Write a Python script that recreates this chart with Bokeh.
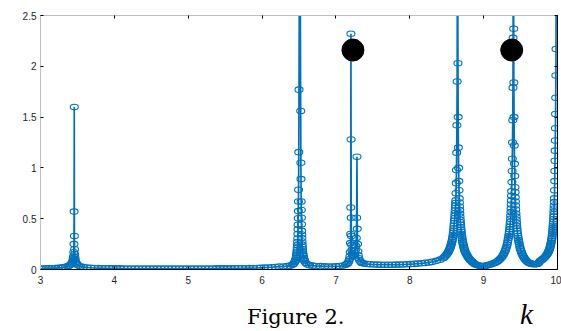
from bokeh.plotting import figure
from bokeh.models import LinearAxis, FixedTicker, Range1d, Div
from bokeh.layouts import column
from bokeh.embed import file_html
from bokeh.resources import INLINE

# ---------------- data: (k, value) pairs ----------------
seg_a = [(3.00, 0.010), (3.04, 0.010), (3.08, 0.011), (3.12, 0.012), (3.16, 0.013),
         (3.20, 0.014), (3.24, 0.016), (3.28, 0.019), (3.31, 0.022), (3.34, 0.026),
         (3.37, 0.032)]

peak1 = [(3.39, 0.040), (3.41, 0.050), (3.425, 0.060), (3.435, 0.075), (3.44, 0.090),
         (3.445, 0.110), (3.448, 0.130), (3.451, 0.170), (3.453, 0.250), (3.455, 0.570),
         (3.457, 1.600), (3.459, 0.330), (3.461, 0.200), (3.463, 0.150), (3.466, 0.120),
         (3.47, 0.095), (3.475, 0.075), (3.485, 0.060), (3.495, 0.050), (3.515, 0.040),
         (3.545, 0.030)]

seg_b = [(3.58, 0.024), (3.63, 0.020), (3.68, 0.017), (3.73, 0.015), (3.78, 0.014),
         (3.83, 0.013), (3.88, 0.012), (3.93, 0.012), (3.98, 0.011), (4.03, 0.011),
         (4.08, 0.011), (4.13, 0.010), (4.18, 0.010), (4.23, 0.010), (4.28, 0.010),
         (4.33, 0.010), (4.38, 0.010), (4.43, 0.010), (4.48, 0.010), (4.53, 0.010),
         (4.58, 0.010), (4.63, 0.010), (4.68, 0.010), (4.73, 0.010), (4.78, 0.010),
         (4.83, 0.010), (4.88, 0.010), (4.93, 0.010), (4.98, 0.010), (5.03, 0.010),
         (5.08, 0.010), (5.13, 0.010), (5.18, 0.010), (5.23, 0.010), (5.28, 0.010),
         (5.33, 0.010), (5.38, 0.011), (5.43, 0.011), (5.48, 0.011), (5.53, 0.011),
         (5.58, 0.011), (5.63, 0.012), (5.68, 0.012), (5.73, 0.012), (5.78, 0.013),
         (5.83, 0.014), (5.88, 0.014), (5.93, 0.015), (5.98, 0.016), (6.03, 0.018),
         (6.08, 0.020), (6.13, 0.022), (6.18, 0.025)]

peak2 = [(6.231, 0.028), (6.291, 0.030), (6.341, 0.033), (6.381, 0.038), (6.411, 0.047),
         (6.426, 0.055), (6.441, 0.070), (6.446, 0.078), (6.451, 0.086), (6.456, 0.099),
         (6.461, 0.113), (6.465, 0.128), (6.468, 0.144), (6.471, 0.160), (6.473, 0.177),
         (6.475, 0.195), (6.477, 0.215), (6.479, 0.240), (6.481, 0.270), (6.483, 0.305),
         (6.485, 0.350), (6.4865, 0.395), (6.488, 0.440), (6.4895, 0.505), (6.491, 0.575),
         (6.4925, 0.670), (6.494, 0.785), (6.497, 1.155), (6.500, 1.770), (6.511, 4.000),
         (6.523, 1.560), (6.5255, 1.050), (6.527, 0.890), (6.5295, 0.670), (6.531, 0.585),
         (6.5325, 0.510), (6.534, 0.445), (6.536, 0.380), (6.5375, 0.345), (6.539, 0.310),
         (6.541, 0.275), (6.543, 0.245), (6.545, 0.222), (6.547, 0.200), (6.5495, 0.180),
         (6.552, 0.160), (6.555, 0.145), (6.558, 0.130), (6.562, 0.116), (6.566, 0.103),
         (6.571, 0.092), (6.576, 0.082), (6.591, 0.064), (6.611, 0.052), (6.641, 0.043),
         (6.681, 0.038), (6.731, 0.035), (6.791, 0.033)]

seg_c = [(6.85, 0.031), (6.90, 0.030), (6.95, 0.030), (7.00, 0.031), (7.05, 0.034),
         (7.10, 0.040), (7.13, 0.047), (7.15, 0.055), (7.165, 0.065), (7.175, 0.080),
         (7.183, 0.100)]

peak34 = [(7.19, 0.13), (7.194, 0.17), (7.197, 0.26), (7.199, 0.35), (7.201, 0.61),
          (7.203, 2.32), (7.205, 1.28), (7.207, 0.51), (7.209, 0.33), (7.212, 0.24),
          (7.216, 0.19), (7.22, 0.16), (7.226, 0.14), (7.233, 0.13), (7.24, 0.13),
          (7.248, 0.14), (7.256, 0.16), (7.263, 0.19), (7.27, 0.23), (7.276, 0.31),
          (7.281, 0.51), (7.285, 1.11), (7.289, 0.40), (7.293, 0.25), (7.297, 0.18),
          (7.302, 0.14), (7.31, 0.11), (7.32, 0.09), (7.335, 0.075), (7.35, 0.065),
          (7.38, 0.058), (7.42, 0.054)]

seg_d = [(7.46, 0.051), (7.51, 0.049), (7.56, 0.048), (7.61, 0.047), (7.66, 0.047),
         (7.71, 0.047), (7.76, 0.047), (7.81, 0.048), (7.86, 0.048), (7.91, 0.049),
         (7.96, 0.051), (8.01, 0.053), (8.06, 0.055), (8.11, 0.058), (8.16, 0.061),
         (8.21, 0.065), (8.26, 0.069)]

peak5 = [(8.30, 0.075), (8.36, 0.085), (8.41, 0.097), (8.45, 0.11), (8.465, 0.12),
         (8.48, 0.13), (8.49, 0.14), (8.50, 0.15), (8.51, 0.16), (8.52, 0.17),
         (8.528, 0.182), (8.535, 0.195), (8.543, 0.207), (8.55, 0.22), (8.555, 0.232),
         (8.56, 0.245), (8.565, 0.257), (8.57, 0.27), (8.574, 0.285), (8.578, 0.30),
         (8.582, 0.32), (8.586, 0.34), (8.59, 0.36), (8.593, 0.38), (8.596, 0.405),
         (8.599, 0.43), (8.602, 0.455), (8.605, 0.48), (8.608, 0.505), (8.61, 0.53),
         (8.613, 0.555), (8.615, 0.58), (8.617, 0.605), (8.619, 0.63), (8.621, 0.655),
         (8.623, 0.68), (8.626, 0.75), (8.629, 0.85), (8.632, 0.98), (8.635, 1.15),
         (8.638, 1.42), (8.641, 1.85), (8.647, 4.0), (8.652, 2.03), (8.655, 1.50),
         (8.658, 1.20), (8.661, 1.00), (8.664, 0.87), (8.667, 0.78), (8.67, 0.70),
         (8.672, 0.66), (8.674, 0.62), (8.676, 0.585), (8.678, 0.55), (8.68, 0.52),
         (8.683, 0.49), (8.685, 0.465), (8.688, 0.44), (8.691, 0.415), (8.694, 0.39),
         (8.697, 0.37), (8.70, 0.35), (8.704, 0.33), (8.708, 0.31), (8.712, 0.29),
         (8.716, 0.27), (8.72, 0.255), (8.725, 0.24), (8.73, 0.225), (8.735, 0.21),
         (8.74, 0.197), (8.745, 0.185), (8.752, 0.172), (8.76, 0.16), (8.767, 0.15),
         (8.775, 0.14), (8.782, 0.13), (8.79, 0.12), (8.80, 0.11), (8.81, 0.10),
         (8.82, 0.092), (8.83, 0.085), (8.845, 0.075), (8.86, 0.065), (8.875, 0.057),
         (8.89, 0.05), (8.91, 0.045), (8.93, 0.04), (8.95, 0.037), (8.97, 0.035)]

peak6 = [(9.00, 0.035), (9.03, 0.038), (9.05, 0.042), (9.075, 0.047), (9.10, 0.052),
         (9.125, 0.058), (9.15, 0.065), (9.17, 0.072), (9.19, 0.08), (9.205, 0.09),
         (9.22, 0.10), (9.235, 0.112), (9.25, 0.125), (9.26, 0.137), (9.27, 0.15),
         (9.28, 0.165), (9.29, 0.18), (9.298, 0.195), (9.305, 0.21), (9.312, 0.227),
         (9.318, 0.245), (9.324, 0.267), (9.33, 0.29), (9.335, 0.31), (9.34, 0.33),
         (9.344, 0.35), (9.348, 0.37), (9.352, 0.395), (9.355, 0.42), (9.358, 0.445),
         (9.361, 0.47), (9.364, 0.50), (9.366, 0.53), (9.369, 0.565), (9.371, 0.60),
         (9.373, 0.64), (9.375, 0.68), (9.377, 0.725), (9.379, 0.77), (9.382, 0.86),
         (9.385, 0.97), (9.388, 1.09), (9.391, 1.25), (9.394, 1.47), (9.397, 1.79),
         (9.399, 2.28), (9.403, 4.0), (9.407, 2.37), (9.409, 1.84), (9.412, 1.50),
         (9.415, 1.22), (9.418, 1.04), (9.421, 0.92), (9.424, 0.81), (9.426, 0.76),
         (9.428, 0.71), (9.43, 0.67), (9.432, 0.63), (9.434, 0.59), (9.437, 0.55),
         (9.44, 0.52), (9.442, 0.49), (9.445, 0.46), (9.448, 0.43), (9.451, 0.405),
         (9.455, 0.38), (9.459, 0.355), (9.463, 0.33), (9.467, 0.31), (9.472, 0.29),
         (9.477, 0.27), (9.482, 0.25), (9.488, 0.23), (9.494, 0.21), (9.501, 0.195),
         (9.508, 0.18), (9.515, 0.165), (9.522, 0.15), (9.531, 0.137), (9.54, 0.125),
         (9.55, 0.112), (9.56, 0.10), (9.572, 0.09), (9.585, 0.08), (9.60, 0.072),
         (9.615, 0.065), (9.632, 0.06), (9.65, 0.055), (9.67, 0.053), (9.69, 0.052),
         (9.71, 0.053), (9.73, 0.055)]

peak7 = [(9.745, 0.065), (9.76, 0.08), (9.775, 0.088), (9.79, 0.095), (9.80, 0.102),
         (9.815, 0.11), (9.828, 0.12), (9.84, 0.13), (9.85, 0.14), (9.86, 0.15),
         (9.868, 0.16), (9.875, 0.17), (9.882, 0.182), (9.888, 0.195), (9.894, 0.207),
         (9.90, 0.22), (9.905, 0.235), (9.91, 0.25), (9.914, 0.265), (9.918, 0.28),
         (9.922, 0.295), (9.925, 0.31), (9.928, 0.33), (9.931, 0.35), (9.934, 0.37),
         (9.936, 0.39), (9.939, 0.41), (9.941, 0.43), (9.943, 0.45), (9.945, 0.47),
         (9.947, 0.495), (9.949, 0.52), (9.951, 0.545), (9.952, 0.57), (9.954, 0.60),
         (9.955, 0.63), (9.957, 0.665), (9.958, 0.70), (9.96, 0.78), (9.962, 0.87),
         (9.964, 0.97), (9.966, 1.07), (9.968, 1.17), (9.97, 1.27), (9.972, 1.39),
         (9.974, 1.53), (9.976, 1.69), (9.978, 1.91), (9.98, 2.17), (9.985, 4.0)]

dots_k = [7.23, 9.38]
dots_y = [2.16, 2.16]

x_ticks = [3, 4, 5, 6, 7, 8, 9, 10]
x_labels = ["3", "4", "5", "6", "7", "8", "9", "10"]
y_ticks = [0, 0.5, 1, 1.5, 2, 2.5]
y_labels = ["0", "0.5", "1", "1.5", "2", "2.5"]

caption = "Figure 2."
var_name = "k"

curve = seg_a + peak1 + seg_b + peak2 + seg_c + peak34 + seg_d + peak5 + peak6 + peak7
k_all = [c[0] for c in curve]
y_all = [c[1] for c in curve]

# ---------------- figure ----------------
BLUE = "#0072BD"
W, H = 561, 295
p = figure(width=W, height=H, x_range=Range1d(3, 10), y_range=Range1d(0, 2.5),
           output_backend="svg", toolbar_location=None,
           x_axis_location=None, y_axis_location=None,
           min_border_left=40, min_border_right=4, min_border_top=15,
           min_border_bottom=H - 269)
p.outline_line_color = None
p.grid.visible = False
p.background_fill_color = "white"
p.border_fill_color = "white"

p.line(k_all, y_all, line_color=BLUE, line_width=1.7)
p.ellipse(k_all, y_all, width=8, height=5.5, width_units="screen",
          height_units="screen", fill_color=None, line_color=BLUE, line_width=1.1)
p.scatter(dots_k, dots_y, size=22, fill_color="black", line_color="black")


def make_axis(ticks, labels, line_color, show_labels, standoff):
    ax = LinearAxis(ticker=FixedTicker(ticks=ticks),
                    major_label_overrides={t: l for t, l in zip(ticks, labels)})
    ax.axis_line_color = line_color
    ax.axis_line_width = 1
    ax.major_tick_in = 3
    ax.major_tick_out = 0
    ax.major_tick_line_color = "black"
    ax.minor_tick_in = 0
    ax.minor_tick_out = 0
    ax.major_label_standoff = standoff
    ax.major_label_text_font = "Liberation Sans"
    if show_labels:
        ax.major_label_text_font_size = "10px"
        ax.major_label_text_color = "#262626"
    else:
        ax.major_label_text_font_size = "1px"
        ax.major_label_text_color = None
    return ax


p.add_layout(make_axis(x_ticks, x_labels, "black", True, 6), "below")
p.add_layout(make_axis(y_ticks, y_labels, "#c0c0c0", True, 4), "left")
p.add_layout(make_axis(x_ticks, x_labels, "#c0c0c0", False, 0), "above")
p.add_layout(make_axis(y_ticks, y_labels, "black", False, 0), "right")

caption_html = (
    '<div style="position:relative;width:561px;height:36px;">'
    '<span style="position:absolute;left:247px;top:12px;white-space:nowrap;'
    "font-family:'DejaVu Serif';font-size:21px;line-height:1;color:black;\">"
    + caption + '</span>'
    '<span style="position:absolute;left:520px;top:5px;white-space:nowrap;'
    "font-family:'Liberation Serif';font-style:italic;font-size:29px;line-height:1;color:black;\">"
    + var_name + '</span></div>'
)
cap = Div(text=caption_html, width=561, height=36, margin=(0, 0, 0, 0))

layout = column(p, cap, spacing=0)
open("out.html", "w").write(file_html(layout, INLINE))
